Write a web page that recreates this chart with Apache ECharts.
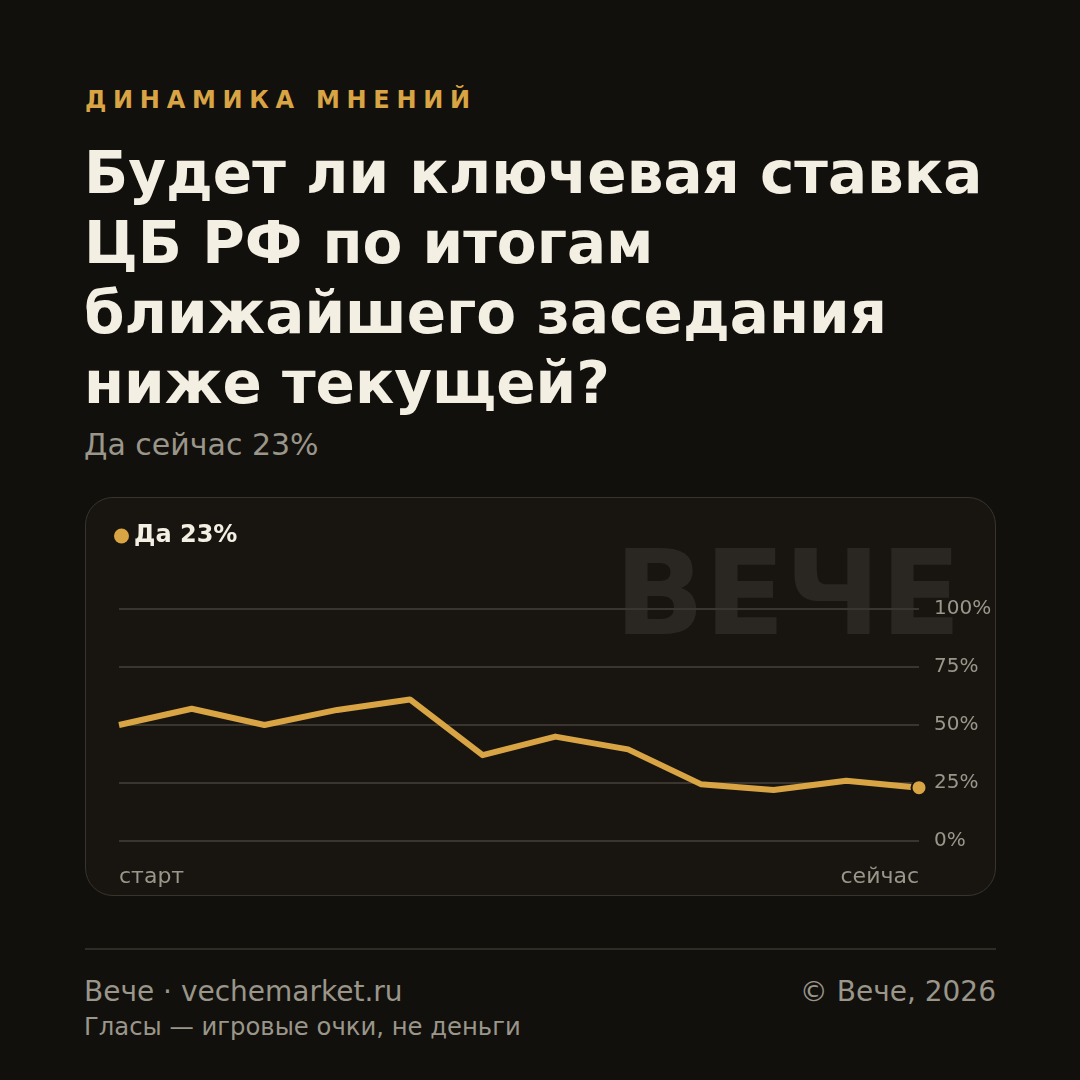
<!DOCTYPE html>
<html>
<head>
<meta charset="utf-8">
<script src="https://cdn.jsdelivr.net/npm/echarts@6/dist/echarts.min.js"></script>
<style>
  html, body { margin: 0; padding: 0; background: #12100d; }
  body { width: 1080px; height: 1080px; position: relative; overflow: hidden; font-family: "DejaVu Sans", sans-serif; }
  .kicker { position: absolute; left: 85px; top: 84px; color: #d8a444; font-weight: bold; font-size: 24px; letter-spacing: 6.7px; line-height: 32px; }
  .title { position: absolute; left: 84px; top: 138px; color: #f3efe2; font-weight: bold; font-size: 58px; line-height: 70px; width: 960px; }
  .sub { position: absolute; left: 84px; top: 426px; color: #9a968a; font-size: 30px; line-height: 38px; }
  .card { position: absolute; left: 85px; top: 497px; width: 909px; height: 397px; border: 1.5px solid #38342d; border-radius: 28px; background: #181511; overflow: hidden; }
  #chart { width: 909px; height: 397px; }
  .sep { position: absolute; left: 85px; top: 948px; width: 911px; height: 1.5px; background: #2f2b25; }
  .foot1 { position: absolute; left: 84px; top: 975px; color: #9a968a; font-size: 28px; line-height: 34px; }
  .foot2 { position: absolute; right: 84px; top: 975px; color: #9a968a; font-size: 28px; line-height: 34px; }
  .foot3 { position: absolute; left: 84px; top: 1012px; color: #9a968a; font-size: 24.3px; line-height: 30px; }
</style>
</head>
<body>
<div class="kicker">ДИНАМИКА МНЕНИЙ</div>
<div class="title">Будет ли ключевая ставка<br>ЦБ РФ по итогам<br>ближайшего заседания<br>ниже текущей?</div>
<div class="sub">Да сейчас 23%</div>
<div class="card"><div id="chart"></div></div>
<div class="sep"></div>
<div class="foot1">Вече · vechemarket.ru</div>
<div class="foot2">© Вече, 2026</div>
<div class="foot3">Гласы — игровые очки, не деньги</div>
<script>
// точки по времени (подписи только у первой и последней)
var steps = ['старт', '', '', '', '', '', '', '', '', '', '', 'сейчас'];
// доля "Да", %
var yesValues = [50, 57, 50, 56.5, 61, 37, 45, 39.5, 24.5, 22, 26, 23];
var seriesName = 'Да 23%';
var yTicks = [0, 25, 50, 75, 100];

var gold = '#d8a444';

var lineData = [];
for (var i = 0; i < yesValues.length; i++) {
  if (i == yesValues.length - 1) {
    lineData.push({
      value: yesValues[i],
      symbol: 'circle',
      symbolSize: 15,
      itemStyle: { color: gold, borderColor: '#181511', borderWidth: 2 }
    });
  } else {
    lineData.push(yesValues[i]);
  }
}

var option = {
  animation: false,
  backgroundColor: 'transparent',
  textStyle: { fontFamily: 'DejaVu Sans' },
  graphic: [{
    type: 'text',
    right: 34,
    top: 46,
    z: -10,
    style: {
      text: 'ВЕЧЕ',
      fill: '#2a2722',
      font: 'bold 118px "DejaVu Sans"'
    }
  }],
  legend: {
    left: 28,
    top: 26,
    padding: 0,
    icon: 'circle',
    itemWidth: 15,
    itemHeight: 15,
    itemGap: 8,
    data: [seriesName],
    textStyle: { color: '#f3efe2', fontSize: 24, fontWeight: 'bold', fontFamily: 'DejaVu Sans', padding: [0, 0, 0, 0] }
  },
  grid: { left: 33, right: 76, top: 111, bottom: 54, containLabel: false },
  xAxis: {
    type: 'category',
    boundaryGap: false,
    data: steps,
    axisLine: { show: false },
    axisTick: { show: false },
    axisLabel: {
      interval: 0,
      margin: 25,
      color: '#9a968a',
      fontSize: 22,
      fontFamily: 'DejaVu Sans',
      alignMinLabel: 'left',
      alignMaxLabel: 'right'
    },
    splitLine: { show: false }
  },
  yAxis: {
    type: 'value',
    position: 'right',
    min: yTicks[0],
    max: yTicks[yTicks.length - 1],
    interval: 25,
    axisLine: { show: false },
    axisTick: { show: false },
    axisLabel: { margin: 15, color: '#9a968a', fontSize: 20, fontFamily: 'DejaVu Sans', formatter: '{value}%' },
    splitLine: { lineStyle: { color: '#3a352e', width: 2 } }
  },
  series: [{
    name: seriesName,
    type: 'line',
    symbol: 'none',
    data: lineData,
    itemStyle: { color: gold },
    lineStyle: { color: gold, width: 6, join: 'round' }
  }]
};

var chart = echarts.init(document.getElementById('chart'));
chart.setOption(option);
</script>
</body>
</html>
